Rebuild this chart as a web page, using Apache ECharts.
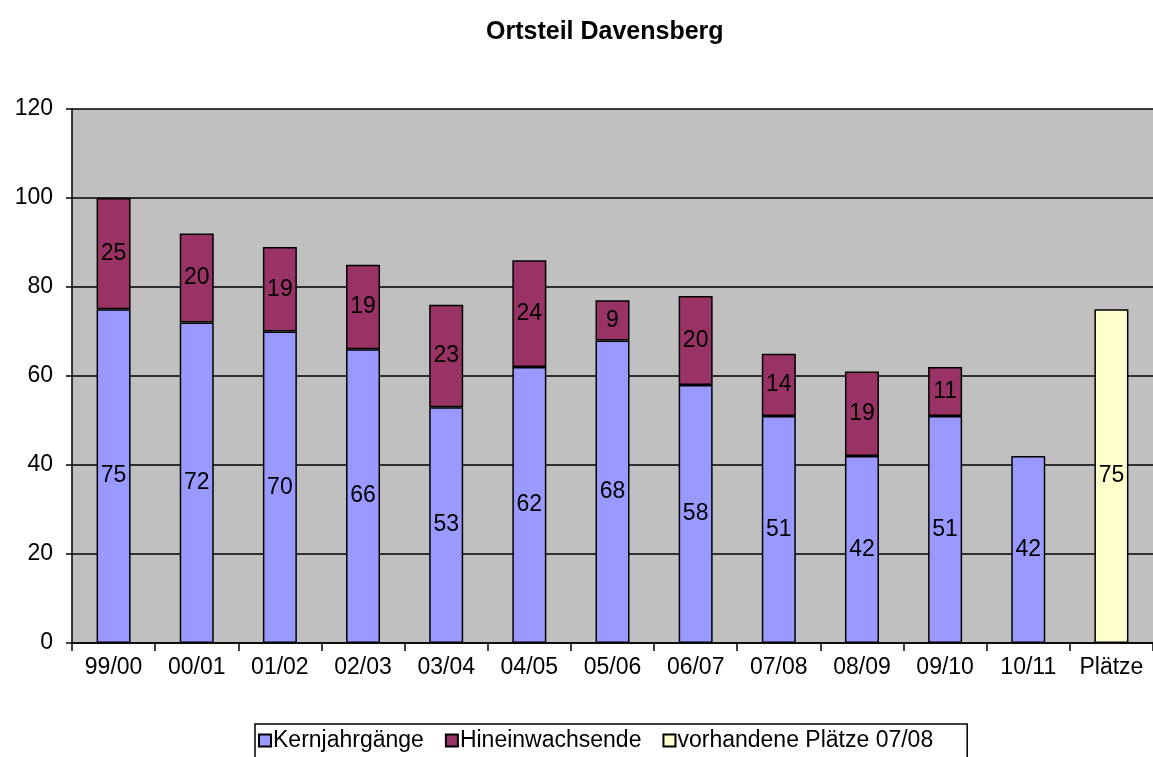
<!DOCTYPE html>
<html><head><meta charset="utf-8">
<script src="https://cdn.jsdelivr.net/npm/echarts@6/dist/echarts.min.js"></script>
<style>html,body{margin:0;padding:0;background:#fff}#c{width:1153px;height:757px}</style>
</head><body><div id="c"></div>
<script>
const categories = ['99/00','00/01','01/02','02/03','03/04','04/05','05/06','06/07','07/08','08/09','09/10','10/11','Plätze'];
const kernjahrgaenge = [75,72,70,66,53,62,68,58,51,42,51,42,'-'];
const hineinwachsende = [25,20,19,19,23,24,9,20,14,19,11,'-','-'];
const plaetze = ['-','-','-','-','-','-','-','-','-','-','-','-',75];
const yTicks = [0,20,40,60,80,100,120];

const font = '"Liberation Sans", Arial, sans-serif';
const fs = 23;
const lbl = {show:true, position:'inside', color:'#000', fontSize:fs, fontFamily:font};
const chart = echarts.init(document.getElementById('c'), null, {renderer:'canvas'});
chart.setOption({
  animation:false,
  backgroundColor:'#fff',
  title:{text:'Ortsteil Davensberg', left:481, top:15, textStyle:{fontSize:25, fontWeight:'bold', color:'#000', fontFamily:font}},
  grid:{left:72, top:109, width:1084, height:534, backgroundColor:'#C0C0C0', show:true, borderColor:'#808080', borderWidth:0},
  legend:{
    top:724, left:255, itemWidth:12, itemHeight:12, itemGap:21,
    borderColor:'#000', borderWidth:1.5, padding:[5,34,12,3], backgroundColor:'#fff',
    textStyle:{fontSize:fs, fontFamily:font, color:'#000', padding:[0,0,0,-3]},
    data:[{name:'Kernjahrgänge',icon:'rect'},{name:'Hineinwachsende',icon:'rect'},{name:'vorhandene Plätze 07/08',icon:'rect'}]
  },
  xAxis:{type:'category', data:categories,
    axisLine:{lineStyle:{color:'#000', width:1.5}},
    axisTick:{show:true, length:8, lineStyle:{color:'#000', width:1.5}},
    axisLabel:{color:'#000', fontSize:fs, fontFamily:font, margin:13}},
  yAxis:{type:'value', min:0, max:120, interval:20,
    axisLine:{show:true, lineStyle:{color:'#000', width:1.5}},
    axisTick:{show:true, length:6, lineStyle:{color:'#000', width:1.5}},
    axisLabel:{color:'#000', fontSize:fs, fontFamily:font, margin:19, formatter:v=>yTicks.includes(v)?String(v):''},
    splitLine:{show:true, lineStyle:{color:'#000', width:1.5}}},
  series:[
    {name:'Kernjahrgänge', type:'bar', stack:'a', data:kernjahrgaenge, barWidth:34,
     itemStyle:{color:'#9999FF', borderColor:'#000', borderWidth:1.5}, label:lbl},
    {name:'Hineinwachsende', type:'bar', stack:'a', data:hineinwachsende, barWidth:34,
     itemStyle:{color:'#993366', borderColor:'#000', borderWidth:1.5}, label:lbl},
    {name:'vorhandene Plätze 07/08', type:'bar', stack:'a', data:plaetze, barWidth:34,
     itemStyle:{color:'#FFFFCC', borderColor:'#000', borderWidth:1.5}, label:lbl}
  ]
});
</script></body></html>
